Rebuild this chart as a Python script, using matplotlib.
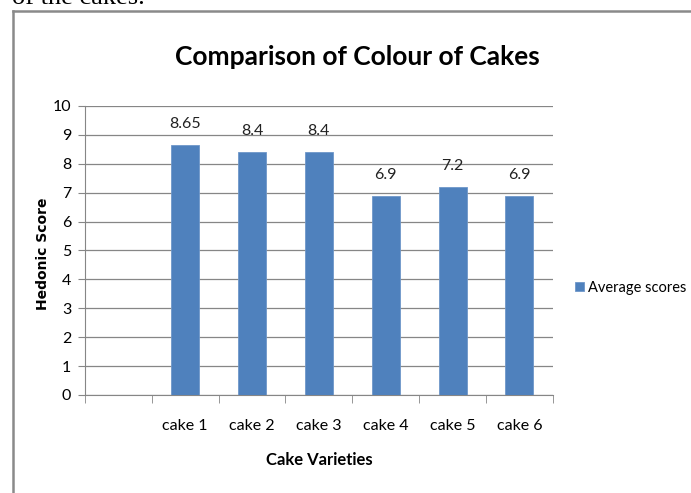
import matplotlib.pyplot as plt
import numpy as np
from matplotlib.lines import Line2D

categories = ['', 'cake 1', 'cake 2', 'cake 3', 'cake 4', 'cake 5', 'cake 6']
scores = [None, 8.65, 8.4, 8.4, 6.9, 7.2, 6.9]
yticks = list(range(0, 11))

font = ['Lato', 'DejaVu Sans']
bar_color = '#4F81BD'
grey = '#868686'

fig = plt.figure(figsize=(6.91, 4.93), dpi=100)
ax = fig.add_axes([0.123, 0.199, 0.677, 0.586])

x = np.arange(len(categories))
bx = [i for i, v in zip(x, scores) if v is not None]
bv = [v for v in scores if v is not None]
bars = ax.bar(bx, bv, width=0.42, color=bar_color, edgecolor='#6f97c9', linewidth=0.6,
              label='Average scores', zorder=3)
for xi, v in zip(bx, bv):
    ax.annotate(f'{v:g}', (xi, v), xytext=(0, 21), textcoords='offset pixels',
                ha='center', va='center', fontsize=11.5, family=font, color='#222222')

ax.set_xlim(-0.5, len(categories) - 0.5)
ax.set_ylim(0, 10)
ax.set_yticks(yticks)
ax.set_yticklabels([str(t) for t in yticks], family=font, fontsize=11.5)
ax.set_xticks(x)
ax.set_xticklabels(categories, family=font, fontsize=11.5)
ax.set_xticks(np.arange(len(categories) + 1) - 0.5, minor=True)
ax.tick_params(axis='x', which='major', length=0, pad=17)
ax.tick_params(axis='x', which='minor', length=6, color=grey, direction='out')
ax.tick_params(axis='y', length=5, color=grey, direction='out', pad=5)
ax.grid(axis='y', color=grey, linewidth=0.9, zorder=0)
for side in ['top', 'right']:
    ax.spines[side].set_visible(False)
for side in ['left', 'bottom']:
    ax.spines[side].set_color(grey)

ax.set_ylabel('Hedonic Score', family='DejaVu Sans', fontsize=10, fontweight='bold',
              va='center')
ax.yaxis.set_label_coords(-0.09, 0.49)
ax.set_xlabel('Cake Varieties', family=font, fontsize=12, fontweight='bold', va='center')
ax.xaxis.set_label_coords(0.5, -0.225)
fig.text(0.517, 0.885, 'Comparison of Colour of Cakes', ha='center', va='center',
         family=font, fontsize=19, fontweight='bold')

ax.legend(loc='center left', bbox_to_anchor=(1.02, 0.37), frameon=False,
          prop={'family': font, 'size': 10.5}, handlelength=0.6, handleheight=0.6,
          handletextpad=0.3)

# document frame and cropped text above it
fig.add_artist(Line2D([0.019, 0.019], [0.0, 0.978], color='#8a8a8a', linewidth=1.8))
fig.add_artist(Line2D([0.019, 1.0], [0.978, 0.978], color='#8a8a8a', linewidth=1.8))
fig.text(0.018, 0.992, 'of the cakes.', family='Liberation Serif', fontsize=19,
         va='baseline', ha='left')

fig.savefig('out.png', dpi=100)
